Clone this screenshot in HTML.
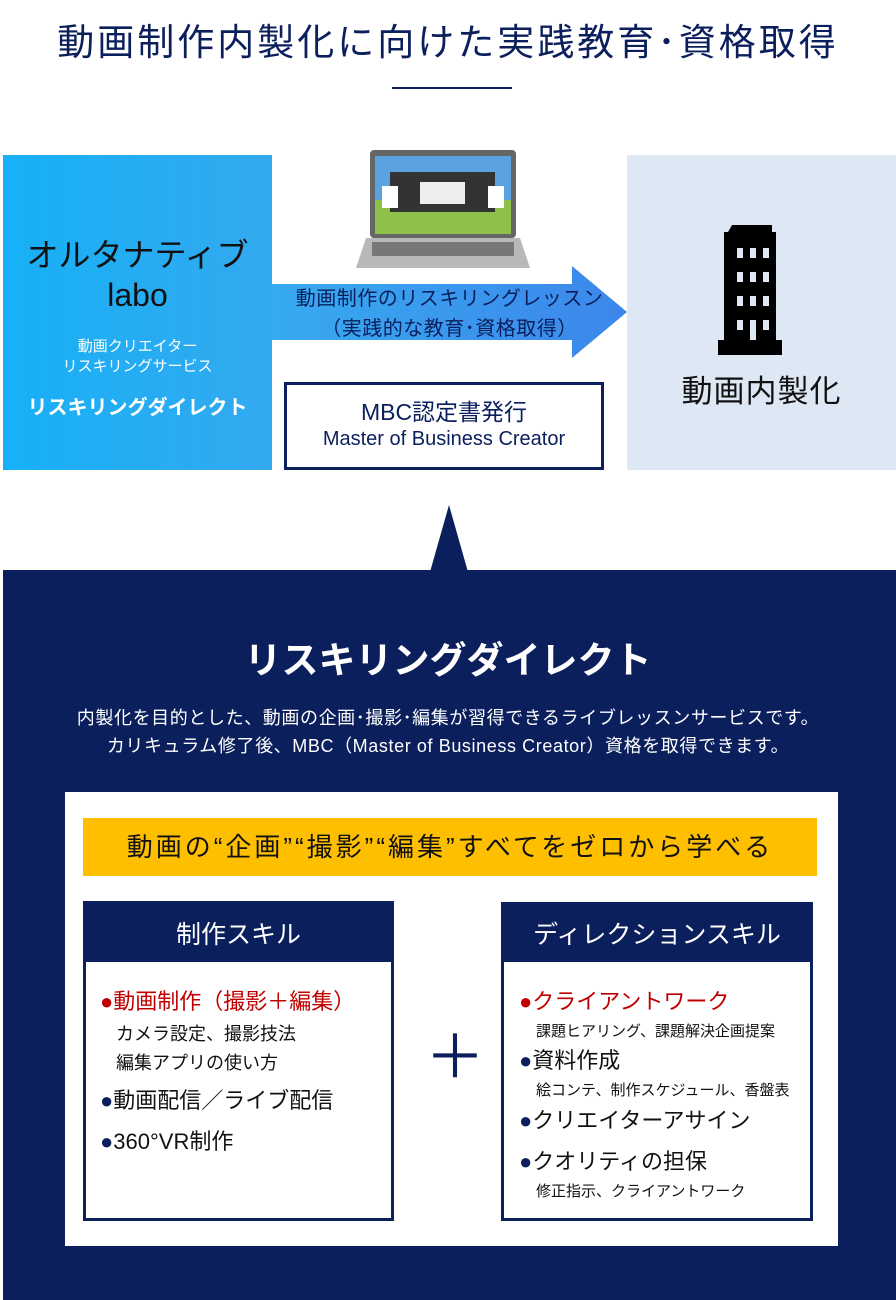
<!DOCTYPE html><html><head><meta charset="utf-8"><style>
*{margin:0;padding:0;box-sizing:border-box}
body{width:896px;height:1300px;position:relative;background:#fff;font-family:"Liberation Sans","Noto Sans CJK JP",sans-serif;overflow:hidden}
.a{position:absolute}
.c{text-align:center}
.nv{color:#0b1f5c}
</style></head><body>
<div class="a c nv" style="left:0;top:12px;width:896px;font-size:37px;letter-spacing:3px">動画制作内製化に向けた実践教育･資格取得</div>
<div class="a" style="left:392px;top:87px;width:120px;height:2px;background:#0b1f5c"></div>

<div class="a c" style="left:3px;top:155px;width:269px;height:315px;background:linear-gradient(90deg,#17b0f6,#33a9ef)">
<div style="margin-top:80px;font-size:32px;line-height:40px;color:#111">オルタナティブ<br>labo</div>
<div style="margin-top:22px;font-size:15px;line-height:20px;color:#fff">動画クリエイター<br>リスキリングサービス</div>
<div style="margin-top:14px;font-size:20px;font-weight:bold;color:#fff">リスキリングダイレクト</div>
</div>
<div class="a" style="left:627px;top:155px;width:269px;height:315px;background:#dee8f4"></div>

<svg class="a" style="left:0;top:0" width="896" height="600">
<defs><linearGradient id="g" x1="0" x2="1"><stop offset="0" stop-color="#37aaf0"/><stop offset="1" stop-color="#3d86eb"/></linearGradient></defs>
<polygon points="272,284 572,284 572,266 627,312 572,358 572,340 272,340" fill="url(#g)"/>
<rect x="370" y="150" width="146" height="88" rx="4" fill="#666"/>
<rect x="375" y="156" width="136" height="78" fill="#5aa3e0"/>
<rect x="375" y="200" width="136" height="34" fill="#8fc04a"/>
<rect x="390" y="172" width="105" height="40" fill="#333"/>
<rect x="420" y="182" width="45" height="22" fill="#eee"/>
<rect x="382" y="186" width="16" height="22" fill="#fff"/><rect x="488" y="186" width="16" height="22" fill="#fff"/>
<polygon points="366,238 520,238 530,268 356,268" fill="#b8b8b8"/>
<rect x="372" y="242" width="142" height="14" fill="#777"/>
<polygon points="732,225 772,225 772,232 776,232 776,340 782,340 782,355 718,355 718,340 724,340 724,232 728,232" fill="#000"/>
<g fill="#dde8f4">
<rect x="737" y="248" width="6" height="10"/><rect x="750" y="248" width="6" height="10"/><rect x="763" y="248" width="6" height="10"/>
<rect x="737" y="272" width="6" height="10"/><rect x="750" y="272" width="6" height="10"/><rect x="763" y="272" width="6" height="10"/>
<rect x="737" y="296" width="6" height="10"/><rect x="750" y="296" width="6" height="10"/><rect x="763" y="296" width="6" height="10"/>
<rect x="737" y="320" width="6" height="10"/><rect x="750" y="320" width="6" height="20"/><rect x="763" y="320" width="6" height="10"/>
</g>
<polygon points="449,505 430,572 468,572" fill="#0b1f5c"/>
</svg>
<div class="a c nv" style="left:268px;top:284px;width:363px;font-size:20px;line-height:30px;letter-spacing:0.5px">動画制作のリスキリングレッスン<br>（実践的な教育･資格取得）</div>
<div class="a c" style="left:627px;top:366px;width:269px;font-size:31px;color:#111;letter-spacing:1px">動画内製化</div>
<div class="a c nv" style="left:284px;top:382px;width:320px;height:88px;border:3px solid #0b1f5c;padding-top:13px">
<div style="font-size:23px;line-height:28px">MBC認定書発行</div><div style="font-size:20px;line-height:26px">Master of Business Creator</div></div>

<div class="a" style="left:3px;top:570px;width:893px;height:730px;background:#0b1f5c"></div>
<div class="a c" style="left:0;top:630px;width:896px;font-size:37px;font-weight:bold;color:#fff">リスキリングダイレクト</div>
<div class="a c" style="left:0;top:704px;width:896px;font-size:18px;line-height:28px;color:#fff;letter-spacing:0.6px">内製化を目的とした、動画の企画･撮影･編集が習得できるライブレッスンサービスです。<br>カリキュラム修了後、MBC（Master of Business Creator）資格を取得できます。</div>

<div class="a" style="left:65px;top:792px;width:773px;height:454px;background:#fff"></div>
<div class="a c" style="left:83px;top:818px;width:734px;height:58px;background:#fdbf00;font-size:26px;line-height:58px;color:#111;letter-spacing:3px">動画の“企画”“撮影”“編集”すべてをゼロから学べる</div>

<div class="a" style="left:83px;top:901px;width:311px;height:320px;border:3px solid #0b1f5c">
<div class="c" style="background:#0b1f5c;color:#fff;height:58px;font-size:25px;line-height:62px">制作スキル</div>
<div style="padding:22px 0 0 14px;color:#111">
<div style="font-size:22px;color:#c00000">●動画制作（撮影＋編集）</div>
<div style="font-size:18px;line-height:29px;margin-left:16px;margin-top:4px">カメラ設定、撮影技法<br>編集アプリの使い方</div>
<div style="font-size:22px;margin-top:5px"><span class="nv">●</span>動画配信／ライブ配信</div>
<div style="font-size:22px;margin-top:9px"><span class="nv">●</span>360°VR制作</div>
</div></div>

<div class="a nv" style="left:425px;top:1018px;font-size:60px;line-height:80px">＋</div>

<div class="a" style="left:501px;top:902px;width:312px;height:319px;border:3px solid #0b1f5c">
<div class="c" style="background:#0b1f5c;color:#fff;height:57px;font-size:25px;line-height:60px">ディレクションスキル</div>
<div style="padding:22px 0 0 15px;color:#111">
<div style="font-size:22px;color:#c00000">●クライアントワーク</div>
<div style="font-size:15px;margin:4px 0 0 17px">課題ヒアリング、課題解決企画提案</div>
<div style="font-size:22px;margin-top:2px"><span class="nv">●</span>資料作成</div>
<div style="font-size:15px;margin:4px 0 0 17px">絵コンテ、制作スケジュール、香盤表</div>
<div style="font-size:22px;margin-top:3px"><span class="nv">●</span>クリエイターアサイン</div>
<div style="font-size:22px;margin-top:9px"><span class="nv">●</span>クオリティの担保</div>
<div style="font-size:15px;margin:4px 0 0 17px">修正指示、クライアントワーク</div>
</div></div>
</body></html>
